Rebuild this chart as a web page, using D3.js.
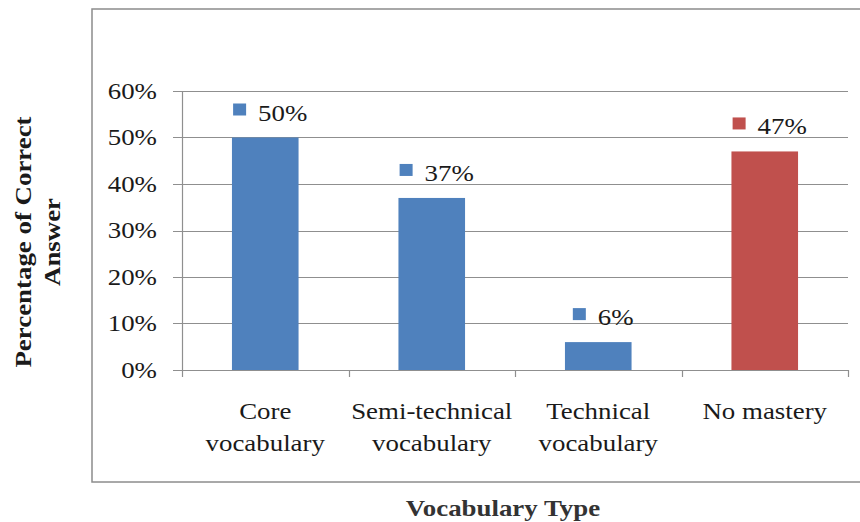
<!DOCTYPE html>
<html>
<head>
<meta charset="utf-8">
<script src="https://cdn.jsdelivr.net/npm/d3@7"></script>
<style>
  body { margin: 0; background: #fff; }
</style>
</head>
<body>
<script>
const categories = [["Core", "vocabulary"], ["Semi-technical", "vocabulary"], ["Technical", "vocabulary"], ["No mastery"]]
const values = [0.50, 0.37, 0.06, 0.47]
const barColors = ["#4F81BD", "#4F81BD", "#4F81BD", "#C0504D"]
const yTicks = [0, 0.1, 0.2, 0.3, 0.4, 0.5, 0.6]

const W = 860, H = 522
const margin = { top: 91, right: 12, bottom: 152, left: 182 },
    width = W - margin.left - margin.right,
    height = H - margin.top - margin.bottom;
const sx = 1.12  // the source picture is a little stretched sideways
const serif = "'Liberation Serif', 'Times New Roman', serif"

const svg = d3.select("body").append("svg")
    .attr("width", W)
    .attr("height", H)

function label(sel) {
    return sel.style("font-family", serif)
        .attr("font-size", 24)
        .attr("fill", "#1a1a1a")
}

// outer chart frame
svg.append("rect")
    .attr("x", 92).attr("y", 9)
    .attr("width", 780).attr("height", 473)
    .attr("fill", "none")
    .attr("stroke", "#8c8c8c")
    .attr("stroke-width", 1.5)

const g = svg.append("g")
    .attr("transform", "translate(" + margin.left + "," + margin.top + ")")

const x = d3.scaleBand()
    .domain(d3.range(categories.length))
    .range([0, width])
    .paddingInner(0.6)
    .paddingOuter(0.3)
const y = d3.scaleLinear().domain([0, 0.6]).range([height, 0])

// gridlines + y labels
g.append("g")
    .selectAll("line")
    .data(yTicks)
    .enter().append("line")
    .attr("x1", -9).attr("x2", width)
    .attr("y1", d => Math.round(y(d)) + 0.5)
    .attr("y2", d => Math.round(y(d)) + 0.5)
    .attr("stroke", "#8f8f8f")
    .attr("stroke-width", 1.2)

g.append("g")
    .selectAll("text")
    .data(yTicks)
    .enter().append("text")
    .call(label)
    .attr("transform", d => "translate(-25," + (y(d) + 7.5) + ") scale(" + sx + ",1)")
    .attr("text-anchor", "end")
    .text(d => d3.format(".0%")(d))

// y axis line
g.append("line")
    .attr("x1", 0.5).attr("x2", 0.5)
    .attr("y1", y(0.6)).attr("y2", y(0))
    .attr("stroke", "#8f8f8f")
    .attr("stroke-width", 1.2)

// x tick marks at band boundaries
const step = x.step()
g.append("g")
    .selectAll("line")
    .data(d3.range(categories.length + 1))
    .enter().append("line")
    .attr("x1", i => Math.round(i * step) + 0.5)
    .attr("x2", i => Math.round(i * step) + 0.5)
    .attr("y1", height).attr("y2", height + 7)
    .attr("stroke", "#8f8f8f")
    .attr("stroke-width", 1.2)

// bars
g.selectAll(".bar")
    .data(values)
    .enter().append("rect")
    .attr("class", "bar")
    .attr("x", (d, i) => x(i))
    .attr("width", x.bandwidth())
    .attr("y", d => y(d))
    .attr("height", d => height - y(d))
    .attr("fill", (d, i) => barColors[i])

// data labels (legend key + value)
values.forEach(function (v, i) {
    const cx = x(i) + x.bandwidth() / 2
    const lab = g.append("g")
    const t = lab.append("text")
        .call(label)
        .text(d3.format(".0%")(v))
    const tw = t.node().getComputedTextLength() * sx
    const w = 25 + tw
    const left = cx - w / 2 + 5
    t.attr("transform", "translate(" + (left + 25) + "," + (y(v) - 17) + ") scale(" + sx + ",1)")
    lab.append("rect")
        .attr("x", left).attr("y", y(v) - 34)
        .attr("width", 13).attr("height", 12)
        .attr("fill", barColors[i])
})

// category labels
categories.forEach(function (lines, i) {
    const cx = x(i) + x.bandwidth() / 2
    lines.forEach(function (s, j) {
        g.append("text")
            .call(label)
            .attr("transform", "translate(" + cx + "," + (height + 49 + j * 31.5) + ") scale(" + sx + ",1)")
            .attr("text-anchor", "middle")
            .text(s)
    })
})

// axis titles
svg.append("text")
    .call(label)
    .attr("transform", "translate(503,516) scale(" + sx + ",1)")
    .attr("text-anchor", "middle")
    .attr("font-weight", "bold")
    .attr("fill", "#333")
    .text("Vocabulary Type")

const yTitle = ["Percentage of Correct", "Answer"]
yTitle.forEach(function (s, j) {
    svg.append("text")
        .call(label)
        .attr("transform", "translate(" + (31 + j * 29) + ",242) rotate(-90) scale(" + sx + ",1)")
        .attr("text-anchor", "middle")
        .attr("font-weight", "bold")
        .text(s)
})
</script>
</body>
</html>
